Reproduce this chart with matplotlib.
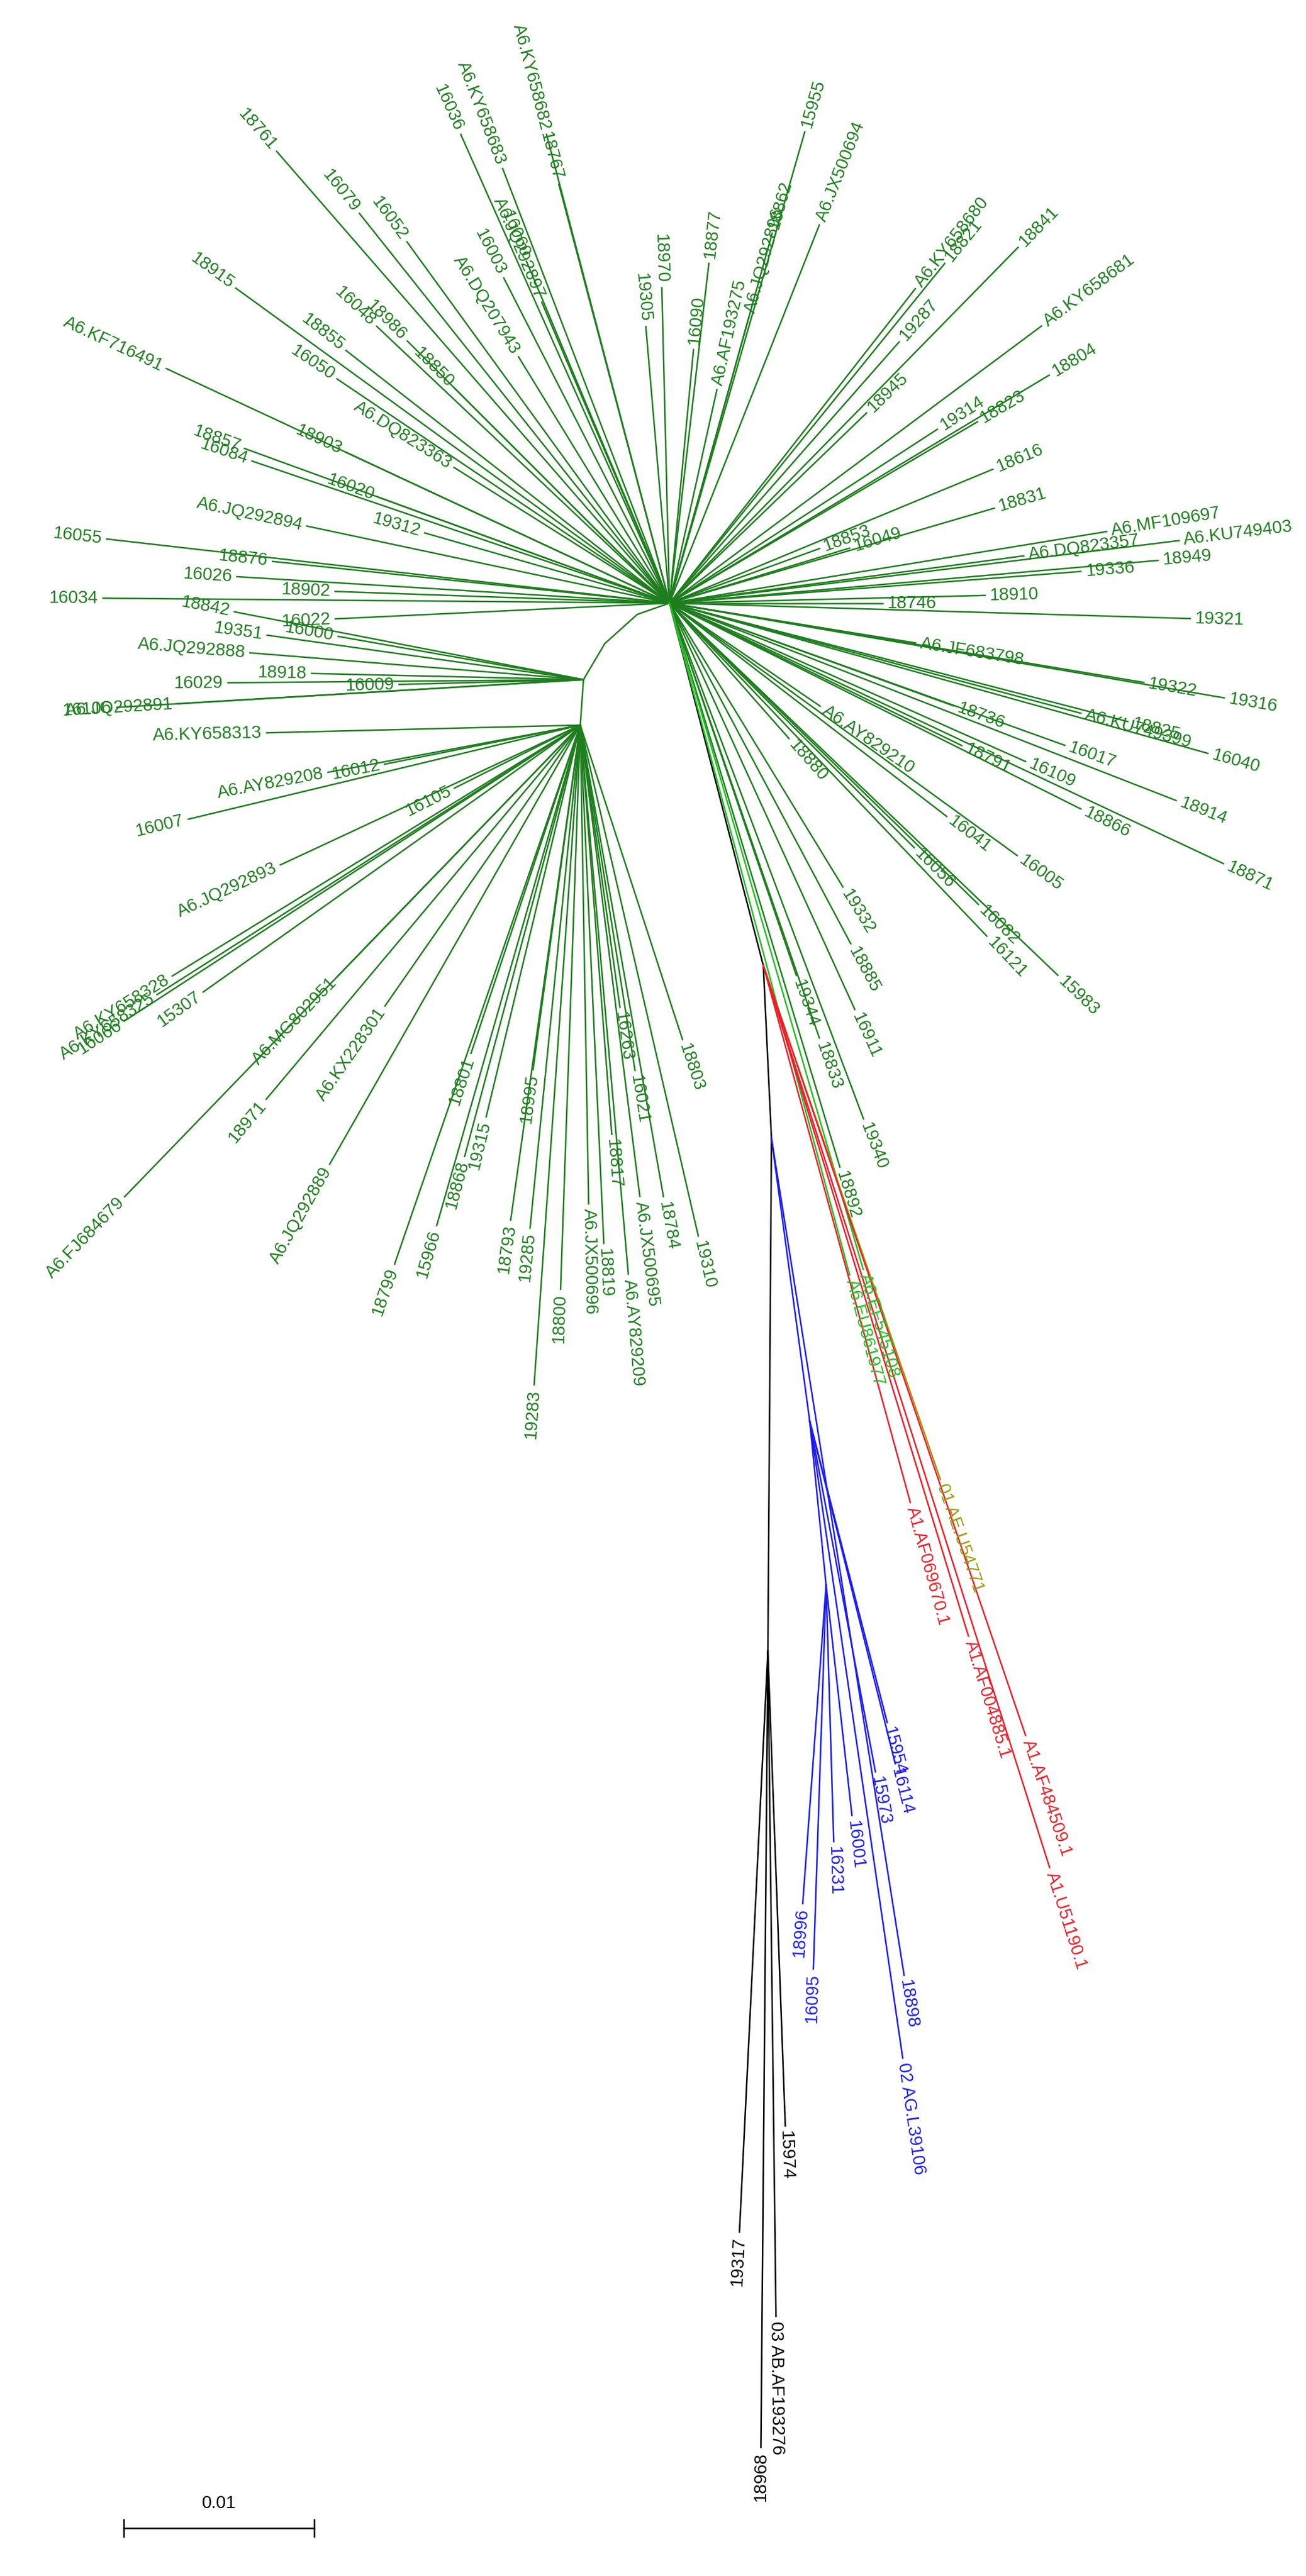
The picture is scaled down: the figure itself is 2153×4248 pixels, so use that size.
import math
import matplotlib
matplotlib.use("Agg")
import matplotlib.pyplot as plt

# ---------------- data ----------------
node_names   = ["A1", "A2", "A3", "A4", "R", "K", "B1", "B2", "K2"]
node_parents = ["H", "A1", "A2", "A3", "H", "R", "K", "B1", "K"]
node_angles  = [199.3, 222, 239.4, 266, -75.5, -87.3, -82.3, -84.3, -90.4]
node_lengths = [1.8, 2.3, 2.2, 2.4, 19.7, 9.1, 15.0, 8.7, 27.0]

gH_labels = ["18761", "16079", "16052", "A6.KY658682", "16036", "A6.KY658683", "18767", "16003",
             "16060", "A6.JQ292897", "A6.DQ207943", "18915", "A6.KF716491", "18855", "16050", "18986",
             "16048", "18850", "18903", "16020", "18857", "16084", "19312", "18876", "16055", "16034",
             "16026", "A6.JQ292894", "A6.DQ823363", "18902", "16022",
             "18970", "18877", "19305", "16090", "A6.JQ292896", "15955", "18862", "A6.JX500694",
             "A6.KY658680", "18821", "18841", "19287", "18945", "19314", "A6.KY658681", "18804",
             "18823", "18616", "18831", "A6.MF109697", "A6.KU749403", "18949", "19336", "19321",
             "18910", "16049", "18853", "A6.DQ823357", "18746", "A6.JF683798", "19322", "19316",
             "18825", "A6.KU749399", "16040", "18914", "16017", "16109", "18866", "18871", "18736",
             "18791", "16005", "16041", "15983", "16121", "16082", "18885", "16911", "19332", "16056",
             "18833", "19344", "19340", "18892", "18880", "A6.AY829210", "A6.AF193275"]
gH_angles = [131, 128.5, 126, 104.7, 114, 111, 104.8, 117,
             112.7, 113, 121.5, 144, 155, 142, 146, 135,
             136.6, 135, 155, 160, 160, 161.2, 164, 174, 173.5, 179.5,
             176.5, 168, 147.8, 178, 182.7,
             91.4, 83.4, 94.9, 84.6, 74.5, 74, 74.5, 68.4,
             52, 51, 45.6, 48.7, 44, 33, 36.7, 31,
             30.5, 22.5, 16.3, 9.3, 7.0, 5, 4.4, -1.7,
             1.4, 17, 20, 7.6, 0, -9.2, -9.5, -9.7,
             -14.5, -15, -15.6, -21.3, -19.8, -24, -26.6, -25.2, -19.9,
             -26, -36, -37.6, -43.8, -46.4, -44.3, -62, -65.5, -58.6, -45,
             -71, -71.2, -69.4, -73.2, -48.6, -34.4, 77.5]
gH_lengths = [31.5, 26.2, 23.5, 25.5, 27.0, 24.5, 22.8, 19.2,
              19.5, 17.2, 15.2, 28.2, 29.2, 21.6, 21.1, 19.5,
              21.2, 16.0, 18.8, 16.3, 23.8, 23.2, 13.4, 21.0, 29.8, 29.8,
              22.8, 19.5, 13.4, 17.6, 17.6,
              16.6, 18.0, 14.6, 13.4, 15.6, 25.8, 20.2, 21.4,
              21.0, 23.0, 26.2, 18.3, 14.4, 16.8, 24.4, 23.3,
              18.8, 18.4, 17.8, 23.3, 27.0, 25.8, 21.7, 27.4,
              16.6, 9.9, 8.4, 18.8, 11.2, 13.1, 25.3, 29.6,
              24.9, 22.4, 29.4, 28.6, 22.1, 20.5, 24.2, 32.2, 15.9,
              17.1, 22.6, 18.4, 28.3, 24.2, 22.7, 20.3, 23.5, 17.5, 18.2,
              24.2, 20.7, 29.0, 31.0, 9.5, 9.6, 11.5]

gA3_labels  = ["18842", "19351", "16000", "A6.JQ292888", "16029", "18918", "16106", "A6.JQ292891", "16009"]
gA3_angles  = [169, 172, 170, 175.4, 180.5, 178.7, 183.4, 183.4, 181.5]
gA3_lengths = [18.7, 16.8, 13.1, 17.6, 18.7, 14.3, 24.6, 21.4, 9.7]

gA4_labels = ["16007", "A6.JQ292893", "A6.AY829208", "A6.KY658313", "16012", "16105", "A6.KY658328",
              "A6.KY658325", "15307", "16066", "A6.FJ684679", "A6.MG802951", "18971", "A6.JQ292889",
              "A6.KX228301", "18799", "15966", "18868", "19315", "18801", "18793", "19285", "19283",
              "18800", "18995", "A6.JX500696", "18819", "18817", "A6.AY829209", "A6.JX500695",
              "18784", "19310", "18803", "16263", "16021"]
gA4_angles = [193.5, 205, 190.6, 181.4, 191.3, 206.6, 211.6,
              212.5, 215.3, 213, 226, 226, 230, 240.3,
              235.2, 251, 254, 255, 256.5, 251.6, 262, 264.3, 266,
              268, 262.2, 271, 272.6, 274.4, 275, 277.2,
              280, 283, 288, 278, 279]
gA4_lengths = [21.2, 17.4, 13.5, 16.5, 10.5, 7.4, 25.2,
               26.4, 24.3, 28.6, 34.5, 18.4, 25.7, 26.6,
               18.0, 30.0, 27.4, 23.5, 21.2, 18.2, 26.3, 26.6, 34.8,
               29.7, 18.3, 25.2, 27.3, 21.6, 29.0, 25.0,
               25.2, 27.6, 17.4, 15.0, 18.4]

lg_labels  = ["A6.EF545108", "A6.EU861977"]
lg_angles  = [-73.8, -75]
lg_lengths = [36.5, 36.6]

olive_labels  = ["01 AE.U54771"]
olive_angles  = [-71]
olive_lengths = [28.6]

red_labels  = ["A1.AF069670.1", "A1.AF004885.1", "A1.AF484509.1", "A1.U51190.1"]
red_angles  = [-74.7, -73, -71.2, -72.4]
red_lengths = [29.3, 36.9, 42.8, 49.8]

blueK_labels  = ["18898"]
blueK_angles  = [-81]
blueK_lengths = [44.6]
blueB1_labels  = ["02 AG.L39106", "15954", "16114", "15973"]
blueB1_angles  = [-81.7, -75.6, -76, -79.4]
blueB1_lengths = [33.9, 16.4, 18.6, 18.8]
blueB2_labels  = ["16095", "18996", "16231", "16001"]
blueB2_angles  = [-91.9, -94.2, -88.3, -83.6]
blueB2_lengths = [20.2, 16.8, 13.5, 12.2]

black_labels  = ["19317", "03 AB.AF193276", "18968", "15974"]
black_angles  = [-92.8, -89.3, -90.5, -87.9]
black_lengths = [30.6, 35.0, 41.9, 25.0]

scale_value = 0.01
# ---------------- style ----------------
PX = 11.5
GREEN = "#1e7d1e"
LGREEN = "#22c022"
OLIVE = "#9a9a10"
RED = "#e8202a"
BLUE = "#1c1cf0"
BLACK = "#000000"
LW = 1.8
FS = 21
FAM = ["Liberation Sans", "DejaVu Sans"]

fig = plt.figure(figsize=(21.53, 42.48), dpi=100)
ax = fig.add_axes([0, 0, 1, 1])
ax.set_xlim(0, 790)
ax.set_ylim(1559, 0)
ax.axis("off")

pos = {"H": (405.0, 365.0)}

def step(p, ang, L):
    a = math.radians(ang)
    return (p[0] + L * PX * math.cos(a), p[1] - L * PX * math.sin(a))

node_colors = {"A1": GREEN, "A2": GREEN, "A3": GREEN, "A4": GREEN,
               "R": BLACK, "K": BLACK, "B1": BLUE, "B2": BLUE, "K2": BLACK}
for n, par, a, L in zip(node_names, node_parents, node_angles, node_lengths):
    p0 = pos[par]
    p1 = step(p0, a, L)
    pos[n] = p1
    ax.plot([p0[0], p1[0]], [p0[1], p1[1]], color=node_colors[n], lw=LW,
            solid_capstyle="round")

def leaves(parent, labels, angles, lengths, color):
    p0 = pos[parent]
    for lab, a, L in zip(labels, angles, lengths):
        p1 = step(p0, a, L)
        ax.plot([p0[0], p1[0]], [p0[1], p1[1]], color=color, lw=LW)
        tp = step(p1, a, 0.25)
        an = ((a + 180) % 360) - 180
        if -90 <= an <= 90:
            rot, ha = an, "left"
        else:
            rot, ha = an - 180 if an > 0 else an + 180, "right"
        ax.text(tp[0], tp[1], lab, rotation=rot, ha=ha, va="center",
                rotation_mode="anchor", color=color, fontsize=FS, family=FAM)

leaves("H", gH_labels, gH_angles, gH_lengths, GREEN)
leaves("A3", gA3_labels, gA3_angles, gA3_lengths, GREEN)
leaves("A4", gA4_labels, gA4_angles, gA4_lengths, GREEN)
leaves("H", lg_labels, lg_angles, lg_lengths, LGREEN)
leaves("R", olive_labels, olive_angles, olive_lengths, OLIVE)
leaves("R", red_labels, red_angles, red_lengths, RED)
leaves("K", blueK_labels, blueK_angles, blueK_lengths, BLUE)
leaves("B1", blueB1_labels, blueB1_angles, blueB1_lengths, BLUE)
leaves("B2", blueB2_labels, blueB2_angles, blueB2_lengths, BLUE)
leaves("K2", black_labels, black_angles, black_lengths, BLACK)

x0, y0 = 75, 1530
x1 = x0 + scale_value * 1000 * PX
ax.plot([x0, x1], [y0, y0], color=BLACK, lw=LW)
ax.plot([x0, x0], [y0 - 5, y0 + 5], color=BLACK, lw=LW)
ax.plot([x1, x1], [y0 - 5, y0 + 5], color=BLACK, lw=LW)
ax.text((x0 + x1) / 2, y0 - 10, "0.01", ha="center", va="bottom", fontsize=FS, family=FAM)

fig.savefig("out.png", dpi=100, facecolor="white")
